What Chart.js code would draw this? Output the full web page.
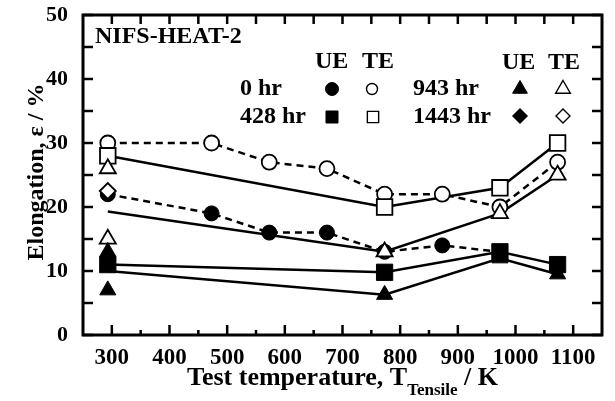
<!DOCTYPE html>
<html>
<head>
<meta charset="utf-8">
<script src="https://cdn.jsdelivr.net/npm/chart.js@4.4.0/dist/chart.umd.min.js"></script>
<style>
  html, body { margin: 0; padding: 0; background: #fff; }
  canvas { display: block; }
</style>
</head>
<body>
<canvas id="elongationChart" width="615" height="401"></canvas>
<script>
// axis ticks
const xTicks = [300, 400, 500, 600, 700, 800, 900, 1000, 1100];
const xMinorTicks = [350, 450, 550, 650, 750, 850, 950, 1050];
const yTicks = [0, 10, 20, 30, 40, 50];
const yMinorTicks = [5, 15, 25, 35, 45];

// 0 hr
const temp0hr = [293, 473, 573, 673, 773, 873, 973, 1073];
const te0hr = [30, 30, 27, 26, 22, 22, 20, 27];
const tempUe0hr = [293, 473, 573, 673, 773, 873, 973];
const ue0hr = [22, 19, 16, 16, 13, 14, 13];

// 428 hr
const temp428hr = [293, 773, 973, 1073];
const te428hr = [28, 20, 23, 30];
const ue428hr = [11, 9.8, 13, 11];

// 943 hr (points and the drawn trend lines)
const temp943hr = [293, 293, 773, 973, 1073];
const te943hr = [26, 15, 13, 19, 25];
const ue943hr = [13, 7, 6.3, 12, 9.5];
const temp943Line = [293, 773, 973, 1073];
const te943Line = [19.3, 13, 19, 25];
const ue943Line = [10, 6.3, 12, 9.5];

// 1443 hr
const temp1443hr = [293];
const te1443hr = [22.5];

const FONT = '"Liberation Serif", "Times New Roman", serif';

function pairs(xs, ys) {
	return ys.map((v, i) => ({ x: xs[i], y: v }));
}

function lineSet(xs, ys, dashed) {
	return {
		data: pairs(xs, ys),
		showLine: true,
		borderColor: '#000',
		borderWidth: 2.5,
		borderDash: dashed ? [7, 5] : [],
		pointRadius: 0,
		order: 20
	};
}

function pointSet(xs, ys, style, radius, filled, order) {
	return {
		data: pairs(xs, ys),
		showLine: false,
		pointStyle: style,
		pointRadius: radius,
		pointBackgroundColor: filled ? '#000' : '#fff',
		pointBorderColor: '#000',
		pointBorderWidth: filled ? 1 : 1.8,
		order: order
	};
}

const framePlugin = {
	id: 'framePlugin',
	beforeDraw(chart) {
		const ctx = chart.ctx;
		ctx.save();
		ctx.fillStyle = '#fff';
		ctx.fillRect(0, 0, chart.width, chart.height);
		ctx.restore();
	},
	afterDatasetsDraw(chart) {
		const { ctx, chartArea: a, scales: { x, y } } = chart;
		ctx.save();
		ctx.strokeStyle = '#000';
		ctx.lineWidth = 3;
		ctx.strokeRect(a.left, a.top, a.right - a.left, a.bottom - a.top);

		ctx.lineWidth = 2.5;
		ctx.beginPath();
		xTicks.forEach(v => {
			const px = x.getPixelForValue(v);
			ctx.moveTo(px, a.bottom); ctx.lineTo(px, a.bottom - 10);
			ctx.moveTo(px, a.top); ctx.lineTo(px, a.top + 9);
		});
		xMinorTicks.forEach(v => {
			const px = x.getPixelForValue(v);
			ctx.moveTo(px, a.bottom); ctx.lineTo(px, a.bottom - 5);
			ctx.moveTo(px, a.top); ctx.lineTo(px, a.top + 9);
		});
		yTicks.concat(yMinorTicks).forEach(v => {
			const py = y.getPixelForValue(v);
			ctx.moveTo(a.left, py); ctx.lineTo(a.left + 10, py);
			ctx.moveTo(a.right, py); ctx.lineTo(a.right - 10, py);
		});
		ctx.stroke();
		ctx.restore();
	},
	afterDraw(chart) {
		const ctx = chart.ctx;
		const a = chart.chartArea;
		ctx.save();
		ctx.fillStyle = '#000';
		ctx.strokeStyle = '#000';
		ctx.textBaseline = 'middle';
		ctx.textAlign = 'left';

		// labels in the plot
		ctx.font = 'bold 24px ' + FONT;
		ctx.fillText('NIFS-HEAT-2', 95, 37);
		ctx.fillText('UE', 315, 62);
		ctx.fillText('TE', 362, 62);
		ctx.fillText('UE', 502, 63);
		ctx.fillText('TE', 548, 63);
		ctx.fillText('0 hr', 240, 89);
		ctx.fillText('428 hr', 240, 117);
		ctx.fillText('943 hr', 413, 89);
		ctx.fillText('1443 hr', 413, 117);

		const mark = (style, r, filled, px, py) => {
			ctx.fillStyle = filled ? '#000' : '#fff';
			ctx.lineWidth = filled ? 1 : 1.4;
			Chart.helpers.drawPoint(ctx, { pointStyle: style, radius: r, rotation: 0, borderWidth: ctx.lineWidth }, px, py);
		};
		mark('circle', 6.5, true, 332, 89);
		mark('circle', 5.5, false, 372, 89);
		mark('rect', 8.5, true, 332, 117);
		mark('rect', 8, false, 373, 117);
		mark('triangle', 8.5, true, 520, 89);
		mark('triangle', 8.5, false, 563, 89);
		mark('rectRot', 7.5, true, 520, 116);
		mark('rectRot', 7, false, 563, 116);

		// x axis title with subscript
		ctx.fillStyle = '#000';
		const main = 'Test temperature, T';
		const sub = 'Tensile';
		const tail = ' / K';
		ctx.font = 'bold 26px ' + FONT;
		const wMain = ctx.measureText(main).width;
		const wTail = ctx.measureText(tail).width;
		ctx.font = 'bold 17px ' + FONT;
		const wSub = ctx.measureText(sub).width;
		let tx = (a.left + a.right) / 2 - (wMain + wSub + wTail) / 2;
		ctx.font = 'bold 26px ' + FONT;
		ctx.fillText(main, tx, 378);
		tx += wMain;
		ctx.font = 'bold 17px ' + FONT;
		ctx.fillText(sub, tx, 391);
		tx += wSub;
		ctx.font = 'bold 26px ' + FONT;
		ctx.fillText(tail, tx, 378);

		// y axis title
		ctx.font = 'bold 24px ' + FONT;
		ctx.translate(43, 172);
		ctx.rotate(-Math.PI / 2);
		ctx.textAlign = 'center';
		ctx.textBaseline = 'alphabetic';
		ctx.fillText('Elongation, \u03b5 / %', 0, 0);
		ctx.restore();
	}
};

new Chart(document.getElementById('elongationChart'), {
	type: 'scatter',
	data: {
		datasets: [
			lineSet(temp0hr, te0hr, true),
			lineSet(tempUe0hr, ue0hr, true),
			lineSet(temp428hr, te428hr, false),
			lineSet(temp428hr, ue428hr, false),
			lineSet(temp943Line, te943Line, false),
			lineSet(temp943Line, ue943Line, false),
			pointSet(temp0hr, te0hr, 'circle', 7.5, false, 9),
			pointSet(tempUe0hr, ue0hr, 'circle', 7.5, true, 8),
			pointSet(temp428hr, ue428hr, 'rect', 11.5, true, 7),
			pointSet(temp428hr, te428hr, 'rect', 11, false, 6),
			pointSet(temp943hr, te943hr, 'triangle', 9.3, false, 5),
			pointSet(temp943hr, ue943hr, 'triangle', 9.3, true, 4),
			pointSet(temp1443hr, te1443hr, 'rectRot', 8, false, 3)
		]
	},
	options: {
		responsive: false,
		animation: false,
		events: [],
		layout: { padding: { top: 15, right: 13, left: 0, bottom: 0 } },
		scales: {
			x: {
				type: 'linear',
				min: 250,
				max: 1150,
				afterBuildTicks: scale => { scale.ticks = xTicks.map(v => ({ value: v })); },
				afterFit: scale => {
					scale.height = 66;
					scale.paddingLeft = 0;
					scale.paddingRight = 0;
				},
				grid: { display: false, drawTicks: false },
				border: { display: false },
				ticks: {
					padding: 9,
					color: '#000',
					maxRotation: 0,
					autoSkip: false,
					callback: v => String(v),
					font: { family: FONT, size: 23, weight: 'bold' }
				}
			},
			y: {
				min: 0,
				max: 50,
				afterBuildTicks: scale => { scale.ticks = yTicks.map(v => ({ value: v })); },
				afterFit: scale => {
					scale.width = 83;
					scale.paddingTop = 0;
					scale.paddingBottom = 0;
				},
				grid: { display: false, drawTicks: false },
				border: { display: false },
				ticks: {
					padding: 15,
					color: '#000',
					font: { family: FONT, size: 22, weight: 'bold' }
				}
			}
		},
		plugins: {
			legend: { display: false },
			tooltip: { enabled: false }
		}
	},
	plugins: [framePlugin]
});
</script>
</body>
</html>
